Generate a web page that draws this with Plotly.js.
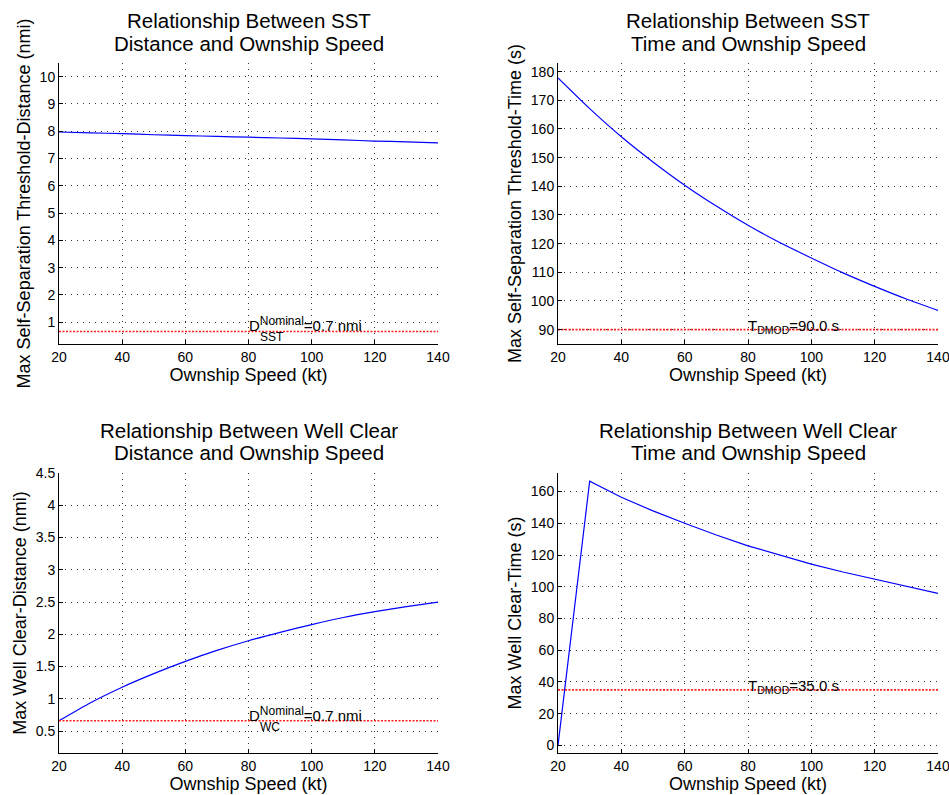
<!DOCTYPE html>
<html>
<head>
<meta charset="utf-8">
<script src="https://cdn.plot.ly/plotly-3.0.1.min.js"></script>
<style>html,body{margin:0;padding:0;background:#fff;}#chart{width:949px;height:795px;}</style>
</head>
<body>
<div id="chart"></div>
<script>
// Ownship speed (kt)
const speed = [20, 30, 40, 50, 60, 70, 80, 90, 100, 110, 120, 130, 140];
// Max Self-Separation Threshold-Distance (nmi)
const sstDistance = [7.97, 7.94, 7.91, 7.87, 7.84, 7.81, 7.78, 7.75, 7.72, 7.68, 7.64, 7.61, 7.57];
// Max Self-Separation Threshold-Time (s)
const sstTime = [177.8, 167.1, 157.3, 148.5, 140.4, 133.1, 126.4, 120.4, 115.0, 109.8, 105.1, 100.7, 96.7];
// Max Well Clear-Distance (nmi)
const wcDistance = [0.66, 0.94, 1.18, 1.39, 1.58, 1.75, 1.90, 2.03, 2.15, 2.26, 2.35, 2.43, 2.50];
// Max Well Clear-Time (s)
const wcTime = [0, 166.5, 156.4, 147.8, 140.0, 132.6, 125.8, 119.8, 114.3, 109.3, 104.7, 100.1, 95.8];
// Reference thresholds
const speedRange = [20, 140];
const dSstNominal = 0.66;
const tDmodSst = 90;
const dWcNominal = 0.66;
const tDmodWc = 35;

const xTicks = [20, 40, 60, 80, 100, 120, 140];
const yTicksSstD = [1, 2, 3, 4, 5, 6, 7, 8, 9, 10];
const yTicksSstT = [90, 100, 110, 120, 130, 140, 150, 160, 170, 180];
const yTicksWcD = [0.5, 1, 1.5, 2, 2.5, 3, 3.5, 4, 4.5];
const yTicksWcT = [0, 20, 40, 60, 80, 100, 120, 140, 160];

const titles = [
  ["Relationship Between SST", "Distance and Ownship Speed"],
  ["Relationship Between SST", "Time and Ownship Speed"],
  ["Relationship Between Well Clear", "Distance and Ownship Speed"],
  ["Relationship Between Well Clear", "Time and Ownship Speed"]
];

function blueLine(smooth) {
  const l = {color: 'rgb(0,0,255)', width: 1.2};
  if (smooth) { l.shape = 'spline'; l.smoothing = 0.6; }
  return l;
}
function redLine() { return {color: 'rgb(255,30,30)', width: 1.6, dash: '2px,1.5px'}; }

const data = [
  {x: speed, y: sstDistance, xaxis: 'x', yaxis: 'y', mode: 'lines', line: blueLine(true)},
  {x: speedRange, y: [dSstNominal, dSstNominal], xaxis: 'x', yaxis: 'y', mode: 'lines', line: redLine()},
  {x: speed, y: sstTime, xaxis: 'x2', yaxis: 'y2', mode: 'lines', line: blueLine(true)},
  {x: speedRange, y: [tDmodSst, tDmodSst], xaxis: 'x2', yaxis: 'y2', mode: 'lines', line: redLine()},
  {x: speed, y: wcDistance, xaxis: 'x3', yaxis: 'y3', mode: 'lines', line: blueLine(true)},
  {x: speedRange, y: [dWcNominal, dWcNominal], xaxis: 'x3', yaxis: 'y3', mode: 'lines', line: redLine()},
  {x: speed, y: wcTime, xaxis: 'x4', yaxis: 'y4', mode: 'lines', line: blueLine(false)},
  {x: speedRange, y: [tDmodWc, tDmodWc], xaxis: 'x4', yaxis: 'y4', mode: 'lines', line: redLine()}
];

const fam = 'Liberation Sans, Arial, sans-serif';
function xax(domain, anchor) {
  return {
    domain: domain, anchor: anchor, range: [20, 140], tickvals: xTicks,
    showline: true, linecolor: '#000', linewidth: 1, mirror: false,
    ticks: 'inside', ticklen: 4, tickcolor: '#000', ticklabeloverflow: 'allow',
    showgrid: true, gridcolor: '#333', griddash: '1px,5px', gridwidth: 1,
    zeroline: false, tickfont: {size: 14, family: fam, color: '#000'},
    title: {text: 'Ownship Speed (kt)', font: {size: 18, family: fam, color: '#000'}, standoff: 2}
  };
}
function yax(domain, anchor, range, ticks, title) {
  return {
    domain: domain, anchor: anchor, range: range, tickvals: ticks,
    showline: true, linecolor: '#000', linewidth: 1, mirror: false,
    ticks: 'inside', ticklen: 4, tickcolor: '#000', ticklabeloverflow: 'allow',
    showgrid: true, gridcolor: '#333', griddash: '1px,5px', gridwidth: 1,
    zeroline: false, tickfont: {size: 14, family: fam, color: '#000'},
    title: {text: title, font: {size: 18, family: fam, color: '#000'}, standoff: 4}
  };
}

const xL = [59/949, 438/949], xR = [558/949, 938/949];
const yT = [1 - 344/795, 1 - 63/795], yB = [1 - 753/795, 1 - 473/795];

const annotations = [];
const centers = [[248.5/949, 21], [748/949, 21], [248.5/949, 430], [748/949, 430]];
titles.forEach((t, i) => {
  const [cx, cy] = centers[i];
  annotations.push({xref: 'paper', yref: 'paper', x: cx, y: 1 - cy/795, xanchor: 'center', yanchor: 'middle',
    text: t[0], showarrow: false, font: {size: 20.5, family: fam, color: '#000'}});
  annotations.push({xref: 'paper', yref: 'paper', x: cx, y: 1 - (cy + 22.5)/795, xanchor: 'center', yanchor: 'middle',
    text: t[1], showarrow: false, font: {size: 20.5, family: fam, color: '#000'}});
});

const labFont = {size: 15, family: fam, color: '#000'};
const subFont = {size: 12, family: fam, color: '#000'};
// D_SST Nominal
annotations.push({xref: 'x', yref: 'y', x: 80, y: dSstNominal, xanchor: 'left', yanchor: 'bottom', yshift: -5, xshift: -2,
  text: 'D<sup><span style="font-size:12px">Nominal</span></sup>=0.7 nmi', showarrow: false, font: labFont});
annotations.push({xref: 'x', yref: 'y', x: 80, y: dSstNominal, xanchor: 'left', yanchor: 'top', yshift: 3, xshift: 9,
  text: 'SST', showarrow: false, font: subFont});
// T_DMOD SST
annotations.push({xref: 'x2', yref: 'y2', x: 80, y: tDmodSst, xanchor: 'left', yanchor: 'middle', yshift: 3, xshift: -2,
  text: 'T<sub>DMOD</sub>=90.0 s', showarrow: false, font: labFont});
// D_WC Nominal
annotations.push({xref: 'x3', yref: 'y3', x: 80, y: dWcNominal, xanchor: 'left', yanchor: 'bottom', yshift: -5, xshift: -2,
  text: 'D<sup><span style="font-size:12px">Nominal</span></sup>=0.7 nmi', showarrow: false, font: labFont});
annotations.push({xref: 'x3', yref: 'y3', x: 80, y: dWcNominal, xanchor: 'left', yanchor: 'top', yshift: 3, xshift: 9,
  text: 'WC', showarrow: false, font: subFont});
// T_DMOD WC
annotations.push({xref: 'x4', yref: 'y4', x: 80, y: tDmodWc, xanchor: 'left', yanchor: 'middle', yshift: 3, xshift: -2,
  text: 'T<sub>DMOD</sub>=35.0 s', showarrow: false, font: labFont});

const layout = {
  width: 949, height: 795,
  margin: {l: 0, r: 0, t: 0, b: 0},
  paper_bgcolor: '#fff', plot_bgcolor: '#fff',
  showlegend: false,
  font: {family: fam, color: '#000'},
  xaxis: xax(xL, 'y'),
  yaxis: yax(yT, 'x', [0.2, 10.5], yTicksSstD, 'Max Self-Separation Threshold-Distance (nmi)'),
  xaxis2: xax(xR, 'y2'),
  yaxis2: yax(yT, 'x2', [85, 183], yTicksSstT, 'Max Self-Separation Threshold-Time (s)'),
  xaxis3: xax(xL, 'y3'),
  yaxis3: yax(yB, 'x3', [0.16, 4.5], yTicksWcD, 'Max Well Clear-Distance (nmi)'),
  xaxis4: xax(xR, 'y4'),
  yaxis4: yax(yB, 'x4', [-4.8, 171.7], yTicksWcT, 'Max Well Clear-Time (s)'),
  annotations: annotations
};

Plotly.newPlot('chart', data, layout, {staticPlot: true, displayModeBar: false});
</script>
</body>
</html>
